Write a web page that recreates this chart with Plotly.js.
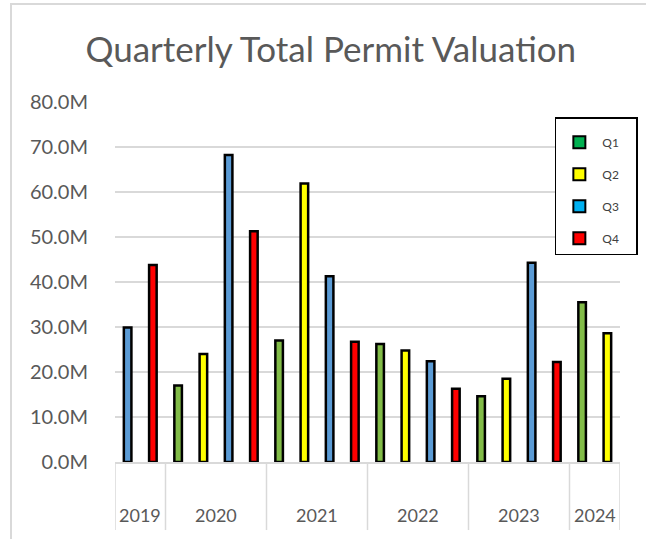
<!DOCTYPE html>
<html>
<head>
<meta charset="utf-8">
<script src="https://cdn.plot.ly/plotly-3.0.1.min.js"></script>
<style>
html,body{margin:0;padding:0;overflow:hidden;background:#fff;}
#chart{position:absolute;left:0;top:0;width:646px;height:539px;}
#frame{position:absolute;left:10px;top:3px;width:700px;height:600px;border-left:2px solid #d9d9d9;border-top:2px solid #d9d9d9;pointer-events:none;}
</style>
</head>
<body>
<div id="chart"></div>
<div id="frame"></div>
<script>
// ---- data ----
const periodYears    = ['2019','2019','2020','2020','2020','2020','2021','2021','2021','2021','2022','2022','2022','2022','2023','2023','2023','2023','2024','2024'];
const periodQuarters = ['Q3','Q4','Q1','Q2','Q3','Q4','Q1','Q2','Q3','Q4','Q1','Q2','Q3','Q4','Q1','Q2','Q3','Q4','Q1','Q2'];
const valuationM     = [29.9, 43.8, 17.0, 24.0, 68.2, 51.3, 27.0, 61.9, 41.3, 26.7, 26.2, 24.8, 22.4, 16.3, 14.6, 18.5, 44.3, 22.2, 35.5, 28.6];
const quarterNames   = ['Q1','Q2','Q3','Q4'];
const barColors      = ['#82BC48','#FFFF00','#5B9BD5','#FF0000'];
const legendColors   = ['#00B050','#FFFF00','#00B0F0','#FF0000'];
const yTickVals      = [0,10,20,30,40,50,60,70,80];
const yTickText      = ['0.0M','10.0M','20.0M','30.0M','40.0M','50.0M','60.0M','70.0M','80.0M'];

const cats = periodYears.map((y,i)=>y+' '+periodQuarters[i]);
const FONT = 'Lato, "Open Sans", sans-serif';
const PAD = '\u00a0\u00a0\u00a0\u00a0';

const traces = [];
quarterNames.forEach((q,qi)=>{
  const xs=[], ys=[];
  cats.forEach((c,i)=>{ if(periodQuarters[i]===q){ xs.push(c); ys.push(valuationM[i]); } });
  traces.push({
    type:'bar', x:xs, y:ys, name:q, showlegend:false,
    width:0.3,
    marker:{color:barColors[qi], line:{color:'#000000', width:2.5}}
  });
});
// legend entries
quarterNames.forEach((q,qi)=>{
  traces.push({
    type:'bar', x:[cats[0]], y:[null], name:q+PAD, legendgroup:q, showlegend:true,
    marker:{color:legendColors[qi], line:{color:'#000000', width:2}}
  });
});

// year groups
const groups=[];
periodYears.forEach((y,i)=>{
  if(!groups.length || groups[groups.length-1].year!==y) groups.push({year:y,start:i,end:i});
  else groups[groups.length-1].end=i;
});
const annotations = groups.map(g=>({
  x:(g.start+g.end)/2, xref:'x', y:-0.147, yref:'paper', yanchor:'middle',
  text:g.year, showarrow:false, font:{family:FONT, size:18, color:'#595959'}
}));
const shapes = [];
groups.forEach((g,k)=>{
  shapes.push({type:'line', xref:'x', yref:'paper', x0:g.start-0.5, x1:g.start-0.5, y0:0, y1:-0.189, line:{color:'#d9d9d9', width:1.5}});
  if(k===groups.length-1) shapes.push({type:'line', xref:'x', yref:'paper', x0:g.end+0.5, x1:g.end+0.5, y0:0, y1:-0.189, line:{color:'#d9d9d9', width:1.5}});
});

const layout = {
  width:646, height:539,
  margin:{l:115, r:26, t:102, b:77, autoexpand:false},
  paper_bgcolor:'#ffffff', plot_bgcolor:'#ffffff',
  title:{text:'Quarterly Total Permit Valuation', font:{family:FONT, size:35, color:'#595959'}, x:0.512, xanchor:'center', y:0.907, yanchor:'middle'},
  barmode:'overlay',
  xaxis:{type:'category', categoryorder:'array', categoryarray:cats, range:[-0.5, cats.length-0.5], automargin:false,
         showticklabels:false, ticks:'', showgrid:false, zeroline:false, showline:true, linecolor:'#d9d9d9', linewidth:1.5, fixedrange:true},
  yaxis:{range:[0,80], tickvals:yTickVals, ticktext:yTickText, showgrid:true, gridcolor:'#d9d9d9', gridwidth:1.5, automargin:false,
         zeroline:false, showline:false, ticks:'', ticklabelstandoff:26,
         tickfont:{family:FONT, size:20, color:'#595959'}, fixedrange:true},
  legend:{x:0.871, y:0.958, xanchor:'left', yanchor:'top', bgcolor:'#ffffff', bordercolor:'#000000', borderwidth:1.5,
          font:{family:FONT, size:12, color:'#404040'}, tracegroupgap:13, itemwidth:36, traceorder:'grouped',
          title:{text:'&nbsp;', font:{size:7}}},
  annotations:annotations, shapes:shapes, showlegend:true
};
Plotly.newPlot('chart', traces, layout, {displayModeBar:false, staticPlot:true});
</script>
</body>
</html>
